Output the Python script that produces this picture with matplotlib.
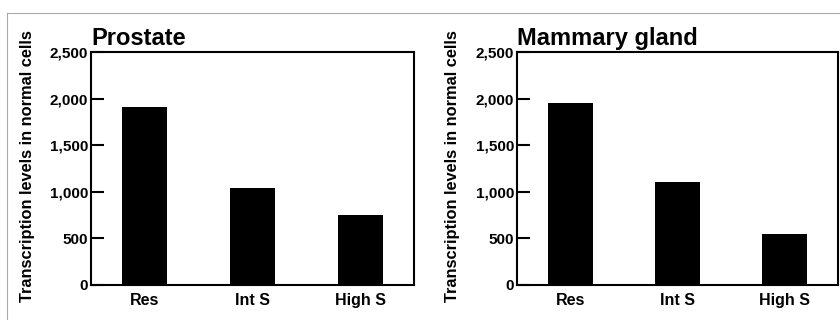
import matplotlib
matplotlib.use("Agg")
import matplotlib.pyplot as plt
from matplotlib.lines import Line2D

categories = ["Res", "Int S", "High S"]
prostate = [1910, 1045, 750]
mammary = [1950, 1100, 545]
titles = ["Prostate", "Mammary gland"]
ylabel = "Transcription levels in normal cells"
yticks = [0, 500, 1000, 1500, 2000, 2500]
yticklabels = ["0", "500", "1,000", "1,500", "2,000", "2,500"]

plt.rcParams['font.family'] = ['Liberation Sans', 'DejaVu Sans']
plt.rcParams['font.weight'] = 'bold'

fig = plt.figure(figsize=(8.4, 3.2), dpi=100)
fig.patch.set_facecolor('white')

W, H = 840, 320
panels = [
    (91, 414, 28, prostate, titles[0]),
    (517, 838, 453, mammary, titles[1]),
]
for x0, x1, ylab_x, vals, title in panels:
    ax = fig.add_axes([x0 / W, (H - 285) / H, (x1 - x0) / W, (285 - 52) / H])
    ax.bar(range(len(categories)), vals, width=0.42, color='black')
    ax.set_xlim(-0.5, 2.5)
    ax.set_ylim(0, 2500)
    ax.set_yticks(yticks)
    ax.set_yticklabels(yticklabels, fontsize=11, fontweight='bold')
    ax.set_xticks(range(len(categories)))
    ax.set_xticklabels(categories, fontsize=11.5, fontweight='bold')
    ax.tick_params(axis='y', direction='in', length=9, width=1.5, pad=2)
    ax.tick_params(axis='x', length=0, pad=6)
    for s in ax.spines.values():
        s.set_linewidth(1.5)
    ax.text(0, 1.01, title, transform=ax.transAxes, fontsize=17, fontweight='bold',
            ha='left', va='bottom')
    fig.text(ylab_x / W, (H - 166) / H, ylabel, rotation=90, fontsize=11.8,
             fontweight='bold', ha='center', va='center')

fig.add_artist(Line2D([7 / W, 1], [1 - 13 / H, 1 - 13 / H], color='#aaaaaa', lw=0.8,
                      transform=fig.transFigure))
fig.add_artist(Line2D([7 / W, 7 / W], [0, 1 - 13 / H], color='#aaaaaa', lw=0.8,
                      transform=fig.transFigure))

fig.savefig("out.png", dpi=100)
